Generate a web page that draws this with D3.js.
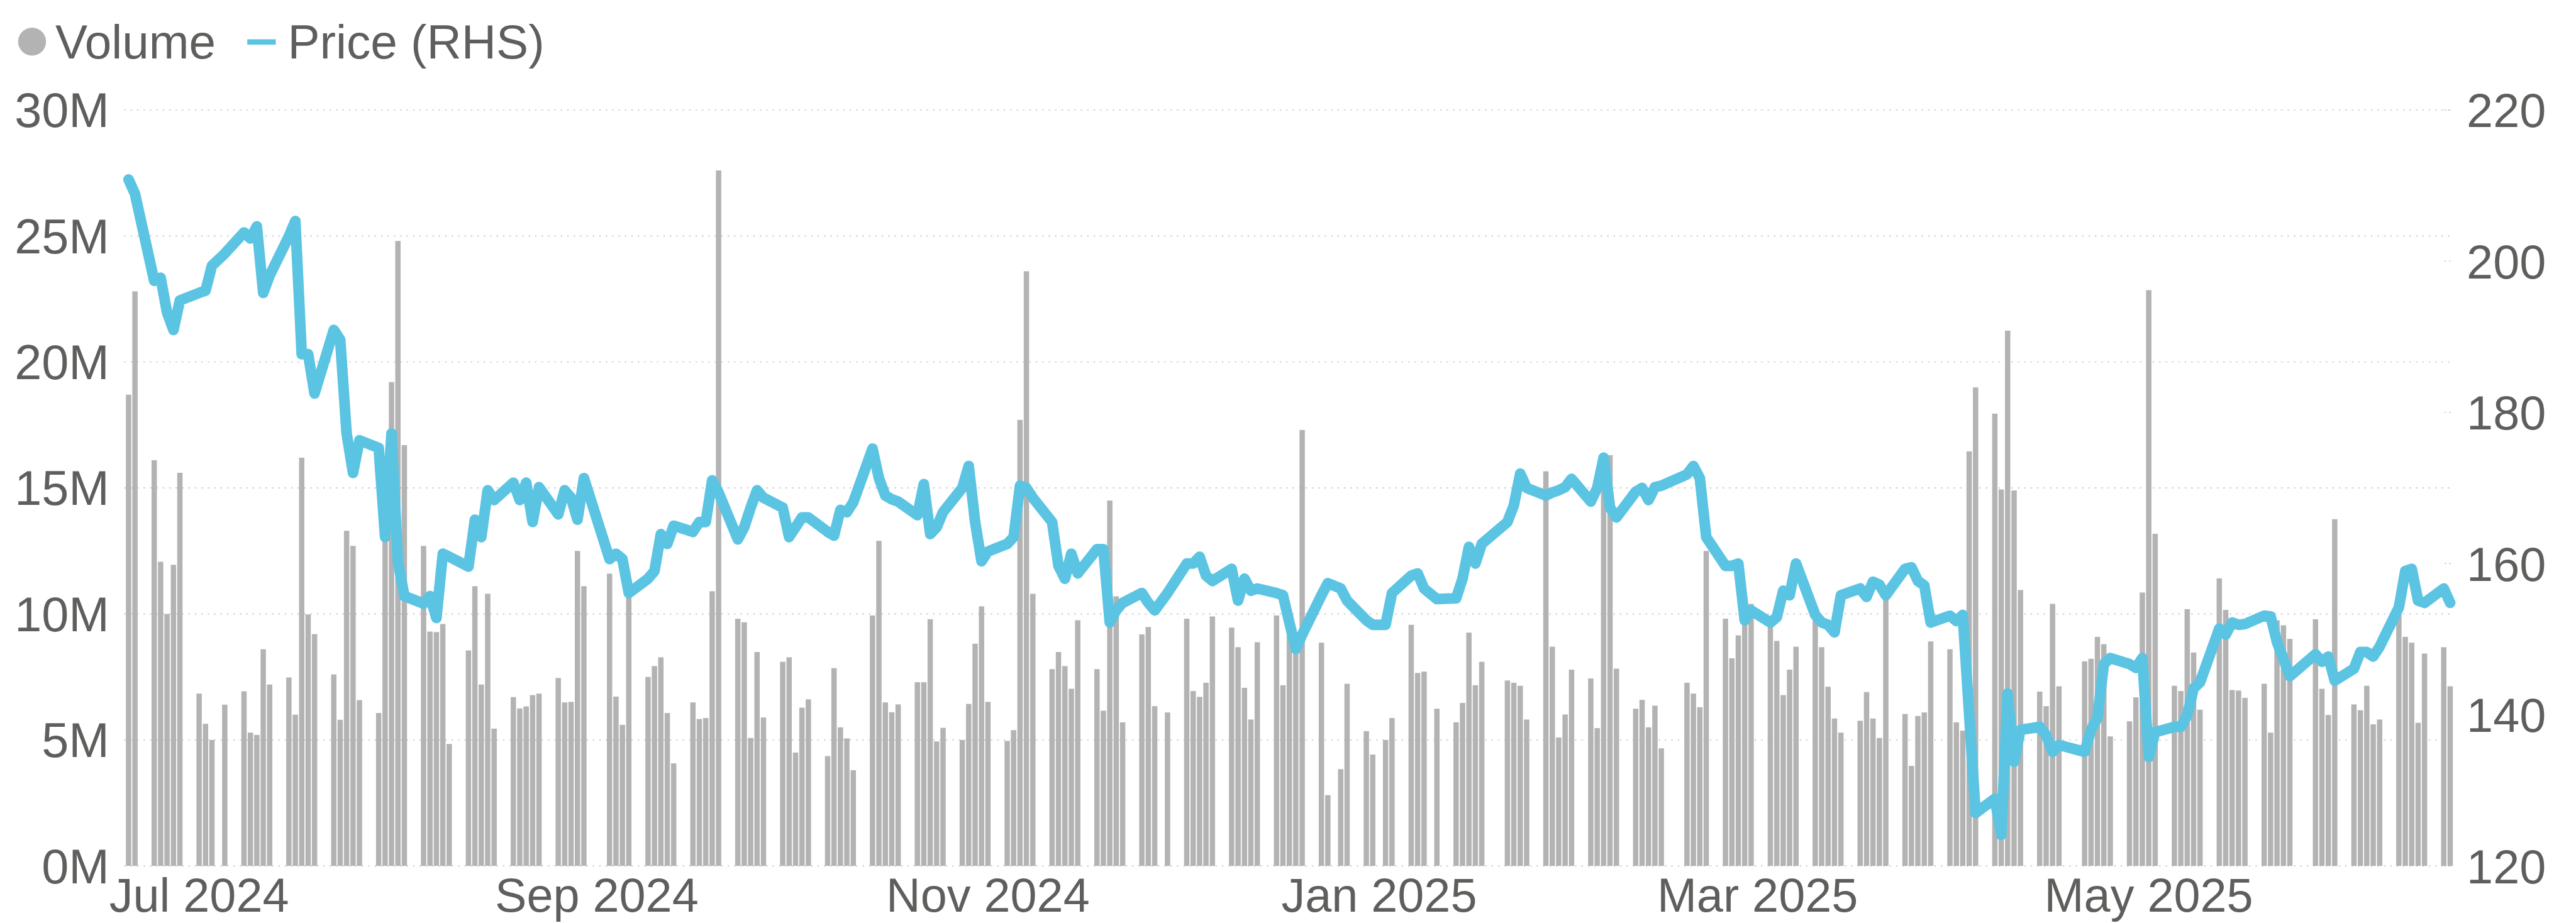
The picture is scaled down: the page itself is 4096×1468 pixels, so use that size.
<!DOCTYPE html>
<html>
<head>
<meta charset="utf-8">
<script src="https://cdn.jsdelivr.net/npm/d3@7"></script>
<style>
html, body { margin: 0; padding: 0; background: #fff; }
svg { display: block; }
</style>
</head>
<body>
<div id="chart"></div>
<script>
// trading days (one per bar / line point)
var dates = [
  "2024-06-20","2024-06-21","2024-06-24","2024-06-25","2024-06-26","2024-06-27","2024-06-28",
  "2024-07-01","2024-07-02","2024-07-03","2024-07-05","2024-07-08","2024-07-09","2024-07-10","2024-07-11","2024-07-12",
  "2024-07-15","2024-07-16","2024-07-17","2024-07-18","2024-07-19","2024-07-22","2024-07-23","2024-07-24","2024-07-25","2024-07-26",
  "2024-07-29","2024-07-30","2024-07-31","2024-08-01","2024-08-02",
  "2024-08-05","2024-08-06","2024-08-07","2024-08-08","2024-08-09","2024-08-12","2024-08-13","2024-08-14","2024-08-15","2024-08-16",
  "2024-08-19","2024-08-20","2024-08-21","2024-08-22","2024-08-23","2024-08-26","2024-08-27","2024-08-28","2024-08-29","2024-08-30",
  "2024-09-03","2024-09-04","2024-09-05","2024-09-06","2024-09-09","2024-09-10","2024-09-11","2024-09-12","2024-09-13",
  "2024-09-16","2024-09-17","2024-09-18","2024-09-19","2024-09-20","2024-09-23","2024-09-24","2024-09-25","2024-09-26","2024-09-27",
  "2024-09-30","2024-10-01","2024-10-02","2024-10-03","2024-10-04","2024-10-07","2024-10-08","2024-10-09","2024-10-10","2024-10-11",
  "2024-10-14","2024-10-15","2024-10-16","2024-10-17","2024-10-18","2024-10-21","2024-10-22","2024-10-23","2024-10-24","2024-10-25",
  "2024-10-28","2024-10-29","2024-10-30","2024-10-31","2024-11-01","2024-11-04","2024-11-05","2024-11-06","2024-11-07","2024-11-08",
  "2024-11-11","2024-11-12","2024-11-13","2024-11-14","2024-11-15","2024-11-18","2024-11-19","2024-11-20","2024-11-21","2024-11-22",
  "2024-11-25","2024-11-26","2024-11-27","2024-11-29","2024-12-02","2024-12-03","2024-12-04","2024-12-05","2024-12-06",
  "2024-12-09","2024-12-10","2024-12-11","2024-12-12","2024-12-13","2024-12-16","2024-12-17","2024-12-18","2024-12-19","2024-12-20",
  "2024-12-23","2024-12-24","2024-12-26","2024-12-27","2024-12-30","2024-12-31","2025-01-02","2025-01-03",
  "2025-01-06","2025-01-07","2025-01-08","2025-01-10","2025-01-13","2025-01-14","2025-01-15","2025-01-16","2025-01-17",
  "2025-01-21","2025-01-22","2025-01-23","2025-01-24","2025-01-27","2025-01-28","2025-01-29","2025-01-30","2025-01-31",
  "2025-02-03","2025-02-04","2025-02-05","2025-02-06","2025-02-07","2025-02-10","2025-02-11","2025-02-12","2025-02-13","2025-02-14",
  "2025-02-18","2025-02-19","2025-02-20","2025-02-21","2025-02-24","2025-02-25","2025-02-26","2025-02-27","2025-02-28",
  "2025-03-03","2025-03-04","2025-03-05","2025-03-06","2025-03-07","2025-03-10","2025-03-11","2025-03-12","2025-03-13","2025-03-14",
  "2025-03-17","2025-03-18","2025-03-19","2025-03-20","2025-03-21","2025-03-24","2025-03-25","2025-03-26","2025-03-27","2025-03-28",
  "2025-03-31","2025-04-01","2025-04-02","2025-04-03","2025-04-04","2025-04-07","2025-04-08","2025-04-09","2025-04-10","2025-04-11",
  "2025-04-14","2025-04-15","2025-04-16","2025-04-17","2025-04-21","2025-04-22","2025-04-23","2025-04-24","2025-04-25",
  "2025-04-28","2025-04-29","2025-04-30","2025-05-01","2025-05-02","2025-05-05","2025-05-06","2025-05-07","2025-05-08","2025-05-09",
  "2025-05-12","2025-05-13","2025-05-14","2025-05-15","2025-05-16","2025-05-19","2025-05-20","2025-05-21","2025-05-22","2025-05-23",
  "2025-05-27","2025-05-28","2025-05-29","2025-05-30","2025-06-02","2025-06-03","2025-06-04","2025-06-05","2025-06-06",
  "2025-06-09","2025-06-10","2025-06-11","2025-06-12","2025-06-13","2025-06-16","2025-06-17"
];

// daily volume, millions of shares
var volume = [
  18.7,22.8,16.1,12.07,10.0,11.95,15.6,
  6.84,5.64,5.0,6.4,6.93,5.29,5.2,8.6,7.2,
  7.48,6.0,16.2,9.98,9.2,7.6,5.8,13.3,12.7,6.58,
  6.07,13.3,19.2,24.8,16.7,
  12.7,9.3,9.28,9.6,4.84,8.55,11.1,7.2,10.8,5.45,
  6.7,6.25,6.33,6.78,6.84,7.46,6.49,6.51,12.5,11.1,
  11.6,6.72,5.6,11.0,7.5,7.93,8.28,6.07,4.07,
  6.49,5.83,5.87,10.9,27.6,9.81,9.67,5.08,8.49,5.89,
  8.1,8.28,4.5,6.28,6.61,4.36,7.85,5.5,5.06,3.8,
  9.94,12.9,6.49,6.1,6.41,7.29,7.29,9.79,4.94,5.48,
  5.0,6.43,8.82,10.3,6.51,4.96,5.39,17.7,23.6,10.8,
  7.81,8.49,7.93,7.03,9.75,7.81,6.16,14.5,10.7,5.7,
  9.19,9.48,6.34,6.09,9.81,6.94,6.71,7.27,9.9,
  9.46,8.68,7.07,5.81,8.88,9.94,7.17,9.8,9.2,17.3,
  8.86,2.81,3.84,7.23,5.35,4.42,5.0,5.87,
  9.57,7.66,7.71,6.24,5.7,6.47,9.26,7.17,8.1,
  7.36,7.27,7.15,5.81,15.66,8.7,5.1,6.01,7.79,
  7.44,5.47,15.0,16.3,7.83,6.24,6.59,5.5,6.36,4.67,
  7.27,6.84,6.3,12.5,9.81,8.24,9.15,10.2,10.4,
  9.8,8.93,6.78,7.79,8.7,10.2,8.68,7.11,5.85,5.29,
  5.76,6.9,5.85,5.08,10.8,6.03,3.97,5.95,6.09,8.91,
  8.6,5.7,5.37,16.45,18.99,17.95,14.94,21.24,14.9,10.95,
  6.92,6.34,10.4,7.13,8.12,8.22,9.09,8.8,5.14,
  5.74,6.69,10.85,22.85,13.18,7.15,6.94,10.19,8.47,6.2,
  11.41,10.16,6.98,6.96,6.67,7.23,5.29,9.75,9.55,9.01,
  9.79,7.03,5.99,13.76,6.41,6.18,7.15,5.62,5.81,
  10.0,9.09,8.86,5.68,8.43,8.68,7.13
];

// daily close price (right hand scale)
var price = [
  210.8,208.9,197.4,197.8,193.2,190.9,194.8,
  195.8,196.1,199.4,201.0,203.8,203.0,204.6,195.8,198.1,
  203.3,205.3,187.7,187.7,182.5,190.9,189.6,177.2,172.0,176.3,
  175.3,163.5,177.2,160.3,155.7,
  154.7,155.7,152.8,161.3,160.9,159.6,165.8,163.5,169.7,168.4,
  170.7,168.4,170.7,165.5,170.1,166.5,169.7,168.7,165.8,171.3,
  160.6,161.3,160.6,156.1,158.0,159.0,163.9,162.6,165.0,
  164.2,165.5,165.5,171.0,169.4,163.2,164.8,167.4,169.7,168.7,
  167.4,163.5,164.8,166.1,166.1,164.2,163.7,167.1,166.8,168.1,
  175.2,171.3,169.0,168.5,168.2,166.4,170.5,163.9,164.8,166.8,
  170.0,172.9,165.5,160.3,161.6,162.6,163.5,170.3,170.0,168.7,
  165.5,159.7,158.0,161.3,158.7,161.9,161.9,152.2,153.8,154.8,
  156.1,154.8,153.8,156.1,160.0,160.0,160.9,158.4,157.7,
  159.3,155.1,158.0,156.4,156.7,156.1,155.8,152.2,148.7,150.6,
  155.8,157.4,156.7,155.1,152.5,151.9,151.9,156.1,
  158.4,158.7,156.7,155.3,155.4,158.0,162.2,160.0,162.6,
  165.5,167.7,171.9,170.0,169.0,169.4,169.7,170.1,171.2,
  168.2,170.0,174.0,167.4,166.1,169.5,170.0,168.4,170.1,170.3,
  171.8,172.9,171.3,163.5,159.7,159.7,160.0,152.5,153.8,
  152.2,152.9,156.4,155.8,160.0,153.2,152.2,151.9,150.9,155.8,
  156.7,155.6,157.6,157.2,155.8,159.3,159.5,157.7,157.1,152.2,
  153.1,152.4,153.2,140.0,127.0,128.9,124.1,142.8,133.8,138.0,
  138.4,137.3,135.1,136.0,135.1,138.0,139.6,146.7,147.5,
  146.7,146.2,147.5,134.4,137.7,138.4,138.4,139.9,143.5,144.3,
  151.4,150.6,152.2,151.9,152.0,153.1,153.0,149.6,147.4,145.1,
  148.0,147.0,147.7,144.5,146.1,148.3,148.3,147.7,149.0,
  154.2,159.0,159.3,155.1,154.8,156.7,154.8
];

var volTicks = [0, 5, 10, 15, 20, 25, 30];
var priceTicks = [120, 140, 160, 180, 200, 220];
var legendLabels = ["Volume", "Price (RHS)"];

// drawing is done in the reference's own pixel space and scaled down by the viewBox
var W = 4334, H = 1553;
var plot = {left: 209, right: 4127, top: 185, bottom: 1457};
var barColor = "#b3b3b3", lineColor = "#5bc4e2", textColor = "#5f5e5c", gridColor = "#cacaca";
var font = "'Liberation Sans', Arial, sans-serif";

var parse = d3.utcParse("%Y-%m-%d");
var data = dates.map(function(d, i){
  return {date: parse(d), vol: volume[i], price: price[i]};
});

var xScale = d3.scaleUtc()
  .domain([parse("2024-06-20"), parse("2025-06-17")])
  .range([216.3, 4122.3]);
var yVol = d3.scaleLinear().domain([0, 30]).range([plot.bottom, plot.top]);
var yPrice = d3.scaleLinear().domain([120, 220]).range([plot.bottom, plot.top]);

var svg = d3.select("#chart").append("svg")
  .attr("width", 4096)
  .attr("height", 1468)
  .attr("viewBox", "0 0 " + W + " " + H)
  .attr("preserveAspectRatio", "none")
  .style("font-family", font);

// dotted grid from the left axis
svg.append("g").selectAll("line")
  .data(volTicks)
  .enter().append("line")
  .attr("x1", plot.left).attr("x2", plot.right)
  .attr("y1", function(d){ return yVol(d); })
  .attr("y2", function(d){ return yVol(d); })
  .attr("stroke", gridColor)
  .attr("stroke-width", 2)
  .attr("stroke-dasharray", "2.5,8.3");

// short dotted stubs for the right axis
svg.append("g").selectAll("line")
  .data(priceTicks)
  .enter().append("line")
  .attr("x1", plot.right - 14).attr("x2", plot.right)
  .attr("y1", function(d){ return yPrice(d); })
  .attr("y2", function(d){ return yPrice(d); })
  .attr("stroke", gridColor)
  .attr("stroke-width", 2)
  .attr("stroke-dasharray", "2.5,5");

// volume bars
var barW = 9;
svg.append("g").selectAll("rect")
  .data(data)
  .enter().append("rect")
  .attr("x", function(d){ return xScale(d.date) - barW / 2; })
  .attr("y", function(d){ return yVol(d.vol); })
  .attr("width", barW)
  .attr("height", function(d){ return yVol(0) - yVol(d.vol); })
  .attr("fill", barColor);

// price line
var line = d3.line()
  .x(function(d){ return xScale(d.date); })
  .y(function(d){ return yPrice(d.price); });

svg.append("path")
  .datum(data)
  .attr("d", line)
  .attr("fill", "none")
  .attr("stroke", lineColor)
  .attr("stroke-width", 18)
  .attr("stroke-linejoin", "round")
  .attr("stroke-linecap", "round");

// left axis labels
svg.append("g").selectAll("text")
  .data(volTicks)
  .enter().append("text")
  .attr("x", 184)
  .attr("y", function(d){ return yVol(d) + 29; })
  .attr("text-anchor", "end")
  .attr("fill", textColor)
  .style("font-size", "82px")
  .text(function(d){ return d + "M"; });

// right axis labels
svg.append("g").selectAll("text")
  .data(priceTicks)
  .enter().append("text")
  .attr("x", 4150)
  .attr("y", function(d){ return yPrice(d) + 29; })
  .attr("fill", textColor)
  .style("font-size", "80px")
  .text(function(d){ return d; });

// x axis labels, every second month
var fmt = d3.utcFormat("%b %Y");
svg.append("g").selectAll("text")
  .data(xScale.ticks(d3.utcMonth.every(2)))
  .enter().append("text")
  .attr("x", function(d){ return xScale(d); })
  .attr("y", 1534)
  .attr("text-anchor", "middle")
  .attr("fill", textColor)
  .style("font-size", "80px")
  .text(function(d){ return fmt(d); });

// legend
var legend = svg.append("g");
legend.append("circle")
  .attr("cx", 54).attr("cy", 70).attr("r", 23.5)
  .attr("fill", barColor);
legend.append("text")
  .attr("x", 93).attr("y", 98)
  .attr("fill", textColor)
  .style("font-size", "81px")
  .text(legendLabels[0]);
legend.append("line")
  .attr("x1", 416).attr("x2", 464)
  .attr("y1", 70.5).attr("y2", 70.5)
  .attr("stroke", lineColor)
  .attr("stroke-width", 9);
legend.append("text")
  .attr("x", 484).attr("y", 98)
  .attr("fill", textColor)
  .style("font-size", "81px")
  .text(legendLabels[1]);
</script>
</body>
</html>
